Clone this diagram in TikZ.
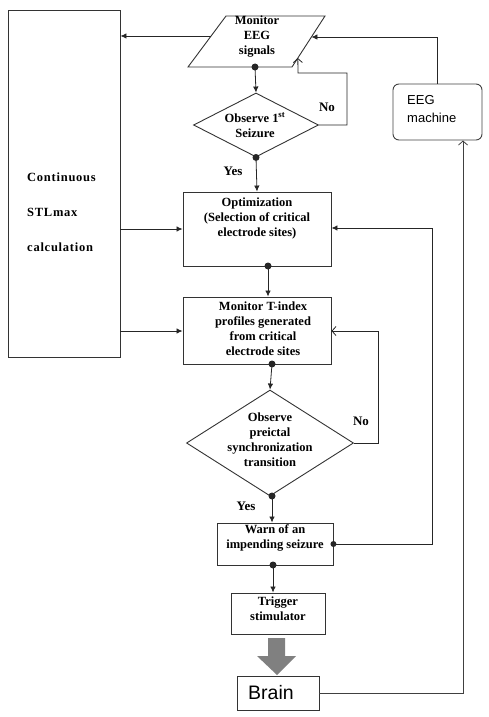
\documentclass[tikz,border=0pt]{standalone}
\usepackage{fontspec}
\setmainfont{Liberation Serif}
\newfontfamily\sansf{Liberation Sans}
\usetikzlibrary{shapes.geometric,arrows.meta,calc}
\begin{document}
\begin{tikzpicture}[x=1pt,y=-1pt,
  box/.style={draw=black!80,line width=0.9pt,rectangle,inner sep=0pt},
  txt/.style={align=center,inner sep=0pt,font=\bfseries\fontsize{12.5}{15}\selectfont},
  dia/.style={draw=black!80,line width=0.9pt,diamond,inner sep=0pt},
  lbl/.style={inner sep=0pt,font=\bfseries\fontsize{13}{15}\selectfont},
  conn/.style={draw=black!85,line width=0.8pt},
  fa/.style={conn,-{Latex[length=6pt,width=5.5pt]}},
  oa/.style={conn,-{Straight Barb[length=4pt,width=9pt]}},
  ]
\useasboundingbox (0,0) rectangle (489,717);
% STL box
\node[box,minimum width=112pt,minimum height=347pt] (stl) at (64,183.5) {};
\node[anchor=west,align=left,inner sep=0pt,font=\bfseries\fontsize{12.5}{35}\selectfont\addfontfeatures{LetterSpace=6}] (stltxt) at (27,212)
  {Continuous\\STLmax\\calculation};
% Monitor EEG parallelogram
\coordinate (m1) at (188,67);
\coordinate (m2) at (292,67);
\coordinate (m3) at (325,16);
\coordinate (m4) at (226,16);
\draw[draw=black!80,line width=0.9pt] (m1)--(m2)--(m3)--(m4)--cycle;
\node[txt] (mon) at (257,37) {Monitor\\EEG\\signals};
\coordinate (monL) at ($(m1)!0.608!(m4)$);
\coordinate (monR) at ($(m2)!0.588!(m3)$);
\coordinate (monN) at ($(m2)!0.176!(m3)$);
\coordinate (monB) at (255,67);
% decision 1
\node[dia,minimum width=125pt,minimum height=64pt] (d1) at (256,125) {};
\node[txt] (d1t) at (255,125) {Observe 1\textsuperscript{st}\\Seizure};
% optimization
\node[box,minimum width=148pt,minimum height=74pt] (opt) at (257,229) {};
\node[txt] (optt) at (257,218) {Optimization\\(Selection of critical\\electrode sites)};
% T-index
\node[box,minimum width=148pt,minimum height=67pt] (tix) at (257,330.5) {};
\node[txt] (tixt) at (263,329) {Monitor T-index\\profiles generated\\from critical\\electrode sites};
% decision 2
\node[dia,minimum width=167pt,minimum height=106pt] (d2) at (270,443) {};
\node[txt] (d2t) at (270,440) {Observe\\preictal\\synchronization\\transition};
% warn
\node[box,minimum width=116pt,minimum height=42pt] (warn) at (275,544) {};
\node[txt] (warnt) at (275,537.5) {Warn of an\\impending seizure};
% trigger
\node[box,minimum width=94pt,minimum height=41pt] (trig) at (278,613.5) {};
\node[txt] (trigt) at (278,608.5) {Trigger\\stimulator};
% brain
\node[box,minimum width=82pt,minimum height=34pt] (brain) at (278,693) {};
\node[inner sep=0pt,font=\sansf\fontsize{19.5}{20}\selectfont] (braint) at (271,693) {Brain};
% EEG machine
\node[draw=black!75,line width=0.9pt,rounded corners=6pt,minimum width=89pt,minimum height=56pt,inner sep=0pt] (eeg) at (437.5,112) {};
\node[anchor=west,align=left,inner sep=0pt,font=\sansf\fontsize{13}{18}\selectfont] (eegt) at (407,109) {EEG\\machine};

% connectors
\draw[fa] (monB) -- (d1.north);
\fill[black!85] (monB) circle (3.5pt);
\draw[fa] (d1.south) -- (opt.north);
\fill[black!85] (d1.south) circle (3.5pt);
\node[lbl] (yes1) at (233,171) {Yes};
\draw[oa] (d1.east) -- (347,125) -- (347,73) -- (298,73) -- (monN);
\node[lbl] (no1) at (327,107) {No};
\draw[fa] (eeg.north) |- (monR);
\draw[fa] (monL) -- (monL -| stl.east);
\draw[fa] (stl.east |- opt.west) -- (opt.west);
\draw[fa] (stl.east |- 0,331) -- (tix.west |- 0,331);
\coordinate (optS) at (268,266);
\draw[fa] (optS) -- (optS |- tix.north);
\fill[black!85] (optS) circle (3.5pt);
\coordinate (tixS) at (272,364);
\draw[fa] (tixS) -- (d2.north);
\fill[black!85] (tixS) circle (3.5pt);
\draw[oa] (d2.east) -- (378,443) -- (378,331) -- (tix.east |- 0,331);
\node[lbl] (no2) at (361,421) {No};
\coordinate (d2S) at (272,496);
\draw[fa] (d2S) -- (d2S |- warn.north);
\fill[black!85] (d2S) circle (3.5pt);
\node[lbl] (yes2) at (246,506) {Yes};
\draw[fa] (warn.east) -- (432,544) -- (432,228) -- (opt.east |- 0,228);
\fill[black!85] (warn.east) circle (3pt);
\coordinate (warnS) at (273,565);
\draw[fa] (warnS) -- (warnS |- trig.north);
\fill[black!85] (warnS) circle (3.5pt);
% big gray arrow
\fill[black!50] (268,638) -- (285,638) -- (285,656) -- (296,656) -- (277,675) -- (257,656) -- (268,656) -- cycle;
\draw[oa,draw=black!75] (brain.east) -- (463,693) -- (463,140.5);
\end{tikzpicture}
\end{document}
